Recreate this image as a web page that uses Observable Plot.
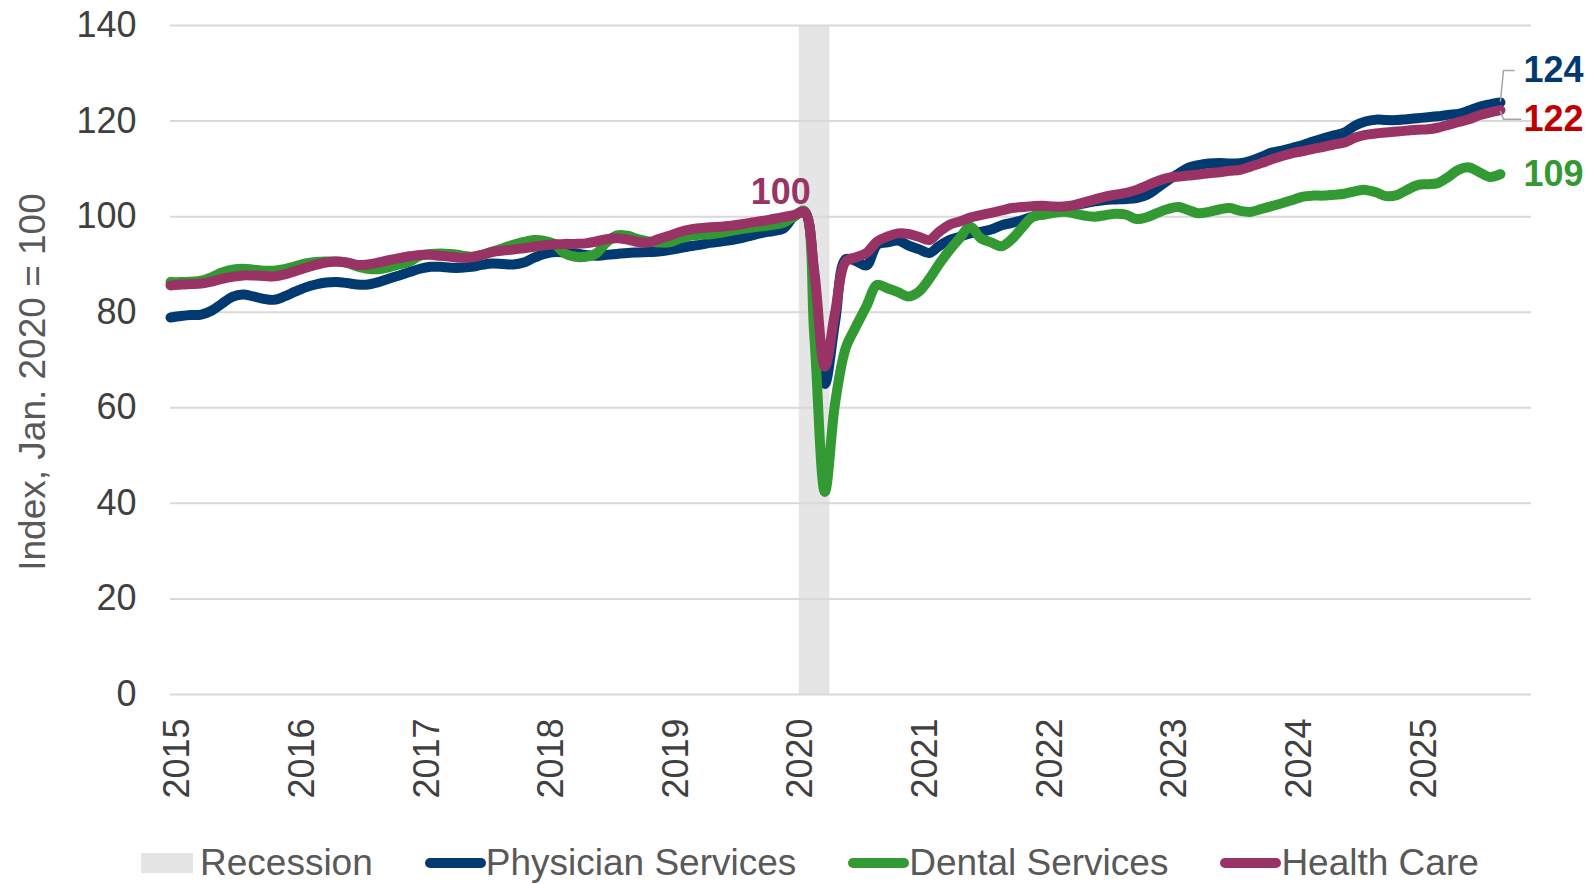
<!DOCTYPE html>
<html>
<head>
<meta charset="utf-8">
<script src="https://cdn.jsdelivr.net/npm/d3@7"></script>
<script src="https://cdn.jsdelivr.net/npm/@observablehq/plot@0.6"></script>
<style>
  html, body { margin: 0; padding: 0; background: #ffffff; }
  body { font-family: "Liberation Sans", Arial, sans-serif; }
  #wrap { position: relative; width: 1587px; height: 884px; overflow: hidden; }
  #ytitle { position: absolute; left: 32px; top: 382px; transform: translate(-50%, -50%) rotate(-90deg);
            font-size: 37px; color: #595959; white-space: nowrap; line-height: 1; }
  #legend { box-sizing: border-box; height: 64px; padding-top: 22px; padding-left: 141px;
            display: flex; align-items: center; font-size: 37px; color: #595959; }
  .item { display: flex; align-items: center; margin-right: 52px; white-space: nowrap; }
  .sw-rect { width: 52px; height: 20px; margin-right: 7px; }
  .sw-line { width: 61px; height: 10px; border-radius: 5px; }
</style>
</head>
<body>
<div id="wrap">
  <div id="chart"></div>
  <div id="ytitle">Index, Jan. 2020 = 100</div>
  <div id="legend"></div>
</div>
<script>
// ---------------- data ----------------
const seriesNames = ["Physician Services", "Dental Services", "Health Care"];
const firstMonth = "2015-01";
const lastMonth = "2025-09";

const physician = [
  78.9, 79.2, 79.4, 79.5, 80.3, 81.8, 83.2, 83.7, 83.3, 82.8, 82.6, 83.3,
  84.3, 85.2, 85.8, 86.2, 86.3, 86.1, 85.8, 85.8, 86.3, 87.0, 87.7, 88.4,
  89.1, 89.5, 89.5, 89.3, 89.3, 89.5, 89.9, 90.2, 90.1, 90.0, 90.4, 91.4,
  92.2, 92.6, 92.5, 92.3, 92.0, 91.8, 92.0, 92.2, 92.4, 92.5, 92.6, 92.7,
  93.0, 93.4, 93.8, 94.1, 94.5, 94.8, 95.1, 95.5, 96.1, 96.6, 97.0, 97.5,
  100.0, 100.9, 87.5, 65.0, 78.0, 91.1, 90.7, 89.8, 94.1, 94.6, 95.0, 94.0,
  93.2, 92.4, 93.8, 95.1, 95.8, 96.5, 96.8, 97.3, 98.2, 98.7, 99.3, 100.0,
  100.6, 101.2, 101.8, 102.3, 102.8, 103.2, 103.5, 103.6, 103.7, 103.9, 104.6, 106.0,
  107.6, 109.0, 110.2, 110.8, 111.1, 111.2, 111.1, 111.2, 111.7, 112.5, 113.4, 113.8,
  114.4, 115.0, 115.7, 116.4, 117.0, 117.6, 119.0, 119.9, 120.3, 120.2, 120.2, 120.4,
  120.6, 120.8, 121.0, 121.3, 121.5, 122.2, 123.0, 123.5, 123.9
];

const dental = [
  86.3, 86.3, 86.4, 86.6, 87.3, 88.3, 88.9, 89.1, 88.9, 88.7, 88.7, 89.0,
  89.6, 90.2, 90.5, 90.6, 90.6, 90.3, 89.6, 89.1, 89.0, 89.4, 90.0, 90.6,
  91.8, 92.2, 92.3, 92.2, 91.9, 91.6, 92.0, 92.7, 93.4, 94.1, 94.7, 95.1,
  94.9, 94.2, 92.3, 91.6, 91.6, 92.3, 94.6, 96.1, 96.0, 95.3, 94.8, 94.6,
  94.6, 95.4, 96.0, 96.2, 96.3, 96.6, 97.0, 97.4, 97.7, 98.0, 98.3, 98.7,
  100.0, 101.2, 75.0, 42.4, 61.0, 72.5, 77.0, 81.3, 85.7, 85.0, 84.2, 83.3,
  84.3, 87.0, 90.0, 93.0, 95.5, 97.9, 95.5, 94.6, 93.8, 95.3, 97.8, 100.0,
  100.4, 100.8, 101.0, 100.7, 100.2, 100.0, 100.3, 100.6, 100.4, 99.5, 99.9, 100.8,
  101.6, 102.0, 101.4, 100.7, 101.0, 101.5, 101.8, 101.2, 101.0, 101.6, 102.2, 102.8,
  103.5, 104.2, 104.4, 104.4, 104.6, 104.8, 105.3, 105.6, 105.1, 104.3, 104.5, 105.6,
  106.6, 106.8, 107.0, 108.3, 109.8, 110.3, 109.3, 108.3, 108.9
];

const healthCare = [
  85.6, 85.8, 85.9, 86.0, 86.4, 87.0, 87.4, 87.7, 87.7, 87.6, 87.5, 87.9,
  88.6, 89.3, 89.9, 90.4, 90.6, 90.4, 89.9, 90.0, 90.4, 90.9, 91.3, 91.7,
  92.0, 92.0, 91.8, 91.6, 91.4, 91.5, 92.0, 92.6, 92.9, 93.1, 93.4, 93.7,
  94.0, 94.2, 94.3, 94.3, 94.4, 94.8, 95.3, 95.5, 95.2, 94.7, 94.6, 95.3,
  96.0, 96.8, 97.3, 97.6, 97.8, 97.9, 98.1, 98.4, 98.8, 99.1, 99.5, 99.9,
  100.3, 101.0, 88.5, 68.6, 80.0, 90.6, 91.5, 92.4, 94.8, 95.8, 96.5, 96.4,
  95.8, 95.1, 96.8, 98.3, 99.0, 99.8, 100.3, 100.8, 101.3, 101.8, 102.0, 102.2,
  102.3, 102.1, 102.1, 102.4, 103.0, 103.6, 104.2, 104.6, 105.0, 105.6, 106.5, 107.4,
  108.1, 108.4, 108.6, 108.8, 109.1, 109.3, 109.6, 109.8, 110.5, 111.2, 112.0, 112.7,
  113.3, 113.7, 114.2, 114.6, 115.1, 115.5, 116.5, 117.1, 117.4, 117.6, 117.8, 118.0,
  118.2, 118.3, 118.6, 119.2, 119.8, 120.4, 121.2, 121.8, 122.3
];

const recessionMonths = ["2020-02", "2020-04"];
const yTicks = [0, 20, 40, 60, 80, 100, 120, 140];
const yearTicks = ["2015","2016","2017","2018","2019","2020","2021","2022","2023","2024","2025"];
const baseMonth = "2020-01";
const axisEnd = "2025-12";

// ---------------- styles ----------------
const colors = {
  "Physician Services": "#003A70",
  "Dental Services": "#339933",
  "Health Care": "#993366"
};
const labelColors = {
  "Physician Services": "#003A70",
  "Dental Services": "#339933",
  "Health Care": "#C00000"
};
const recessionColor = "#E5E5E5";
const gridColor = "#D9D9D9";
const tickColor = "#404040";
const font = '"Liberation Sans", Arial, sans-serif';

// ---------------- build ----------------
const parseM = d3.utcParse("%Y-%m");
const months = d3.utcMonth.range(parseM(firstMonth), d3.utcMonth.offset(parseM(lastMonth), 1));
const valuesBySeries = {
  "Physician Services": physician,
  "Dental Services": dental,
  "Health Care": healthCare
};
const rows = seriesNames.flatMap(s => months.map((date, i) => ({series: s, date, value: valuesBySeries[s][i]})));
const lastRows = seriesNames.map(s => rows.filter(r => r.series === s).at(-1));

const recession = [{start: parseM(recessionMonths[0]), end: parseM(recessionMonths[1])}];
const baseRow = rows.find(r => r.series === "Health Care" && +r.date === +parseM(baseMonth));

// label offsets (value units) to separate the end labels
const labelShift = {"Physician Services": 6.7, "Health Care": -1.9, "Dental Services": 0};
const endLabels = lastRows.map(r => ({...r, ly: r.value + labelShift[r.series], text: d3.format(".0f")(r.value)}));

// leader lines for the two shifted labels
const leaders = endLabels.filter(d => d.series !== "Dental Services").flatMap(d => [
  {series: d.series, date: d.date, value: d.value + (d.ly > d.value ? 0.3 : -0.3)},
  {series: d.series, date: d3.utcDay.offset(d.date, 9), value: d.ly},
  {series: d.series, date: d3.utcDay.offset(d.date, d.ly > d.value ? 40 : 60), value: d.ly}
]);

const lineMarks = seriesNames.map(s => Plot.line(rows.filter(r => r.series === s), {
  x: "date", y: "value", stroke: colors[s], strokeWidth: 10,
  curve: "catmull-rom", strokeLinecap: "round", strokeLinejoin: "round"
}));

const chart = Plot.plot({
  width: 1587,
  height: 820,
  marginLeft: 170,
  marginRight: 56,
  marginTop: 25,
  marginBottom: 126,
  style: {fontFamily: font, fontSize: "36px", background: "#ffffff", overflow: "visible"},
  x: {type: "utc", domain: [parseM(firstMonth), parseM(axisEnd)]},
  y: {domain: [0, 140]},
  marks: [
    Plot.rect(recession, {
      x1: d => d3.utcDay.offset(d.start, -15),
      x2: d => d3.utcDay.offset(d.end, 15),
      fill: recessionColor
    }),
    Plot.ruleY(yTicks, {stroke: gridColor, strokeWidth: 2}),
    Plot.axisY(yTicks, {tickSize: 0, tickPadding: 34, fontSize: 36, color: tickColor, label: null}),
    Plot.axisX(yearTicks.map(y => d3.utcParse("%Y")(y)), {
      tickFormat: d3.utcFormat("%Y"), tickRotate: -90, tickSize: 0, tickPadding: 24,
      fontSize: 36, color: tickColor, label: null, dx: 7
    }),
    ...lineMarks,
    Plot.line(leaders, {x: "date", y: "value", z: "series", stroke: "#A6A6A6", strokeWidth: 1.5}),
    Plot.text(endLabels, {
      x: "date", y: "ly", text: "text", dx: 23, textAnchor: "start",
      fill: d => labelColors[d.series], fontWeight: "bold", fontSize: 36
    }),
    Plot.text([baseRow], {
      x: "date", y: "value", text: d => d3.format(".0f")(d.value), dx: -13, dy: -23,
      fill: colors["Health Care"], fontWeight: "bold", fontSize: 36
    })
  ]
});
document.getElementById("chart").appendChild(chart);

// ---------------- legend ----------------
const legend = document.getElementById("legend");
const legendItems = [{name: "Recession", type: "rect", color: recessionColor}]
  .concat(seriesNames.map(s => ({name: s, type: "line", color: colors[s]})));
for (const it of legendItems) {
  const item = document.createElement("div");
  item.className = "item";
  const sw = document.createElement("span");
  sw.className = it.type === "rect" ? "sw-rect" : "sw-line";
  sw.style.background = it.color;
  const label = document.createElement("span");
  label.textContent = it.name;
  item.appendChild(sw);
  item.appendChild(label);
  legend.appendChild(item);
}
</script>
</body>
</html>
